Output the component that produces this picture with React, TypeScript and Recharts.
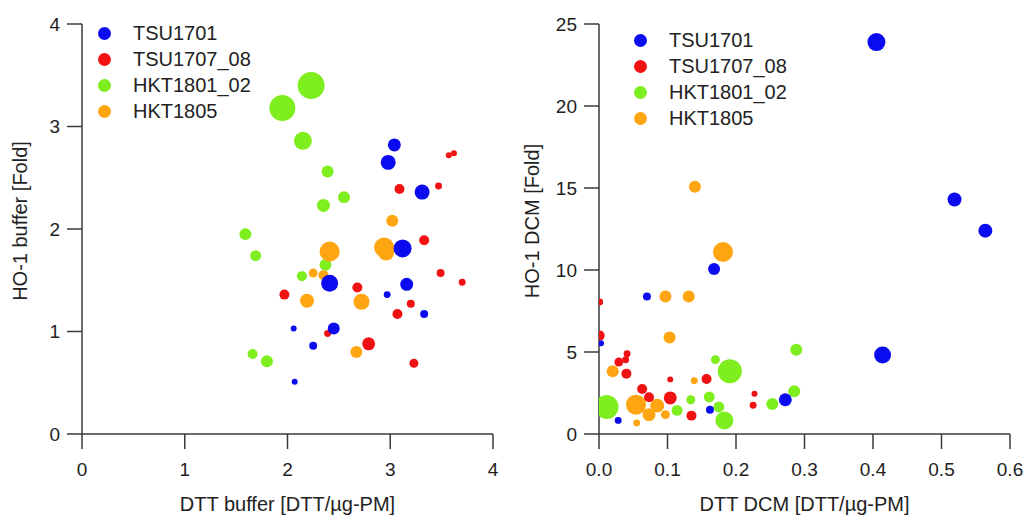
import React from "react";
import {
  ScatterChart,
  Scatter,
  XAxis,
  YAxis,
  ZAxis,
  Legend,
} from "recharts";

// series names and colours (legend order)
const seriesNames = ["TSU1701", "TSU1707_08", "HKT1801_02", "HKT1805"];
const seriesColors = ["#0b0bf0", "#f01212", "#7fee1e", "#ffa512"];
// draw order (later on top)
const drawOrder = [2, 3, 1, 0];

type Pt = { x: number; y: number; z: number };

// ---- left panel: DTT buffer vs HO-1 buffer ----
const bufTSU1701: Pt[] = [
  { x: 3.04, y: 2.82, z: 42 },
  { x: 2.98, y: 2.65, z: 56 },
  { x: 3.31, y: 2.36, z: 56 },
  { x: 3.12, y: 1.81, z: 81 },
  { x: 2.41, y: 1.47, z: 72 },
  { x: 3.16, y: 1.46, z: 42 },
  { x: 2.97, y: 1.36, z: 12 },
  { x: 3.33, y: 1.17, z: 16 },
  { x: 2.06, y: 1.03, z: 9 },
  { x: 2.45, y: 1.03, z: 36 },
  { x: 2.25, y: 0.86, z: 16 },
  { x: 2.07, y: 0.51, z: 9 },
];
const bufTSU1707: Pt[] = [
  { x: 3.57, y: 2.72, z: 9 },
  { x: 3.62, y: 2.74, z: 9 },
  { x: 3.09, y: 2.39, z: 25 },
  { x: 3.47, y: 2.42, z: 12 },
  { x: 3.33, y: 1.89, z: 25 },
  { x: 3.49, y: 1.57, z: 16 },
  { x: 3.7, y: 1.48, z: 12 },
  { x: 1.97, y: 1.36, z: 25 },
  { x: 2.68, y: 1.43, z: 25 },
  { x: 3.2, y: 1.27, z: 16 },
  { x: 3.07, y: 1.17, z: 25 },
  { x: 2.39, y: 0.98, z: 12 },
  { x: 2.79, y: 0.88, z: 42 },
  { x: 3.23, y: 0.69, z: 20 },
];
const bufHKT1801: Pt[] = [
  { x: 1.95, y: 3.18, z: 169 },
  { x: 2.23, y: 3.4, z: 182 },
  { x: 2.15, y: 2.86, z: 81 },
  { x: 2.39, y: 2.56, z: 36 },
  { x: 2.55, y: 2.31, z: 36 },
  { x: 2.35, y: 2.23, z: 42 },
  { x: 1.59, y: 1.95, z: 36 },
  { x: 1.69, y: 1.74, z: 30 },
  { x: 2.37, y: 1.65, z: 36 },
  { x: 2.14, y: 1.54, z: 25 },
  { x: 1.66, y: 0.78, z: 25 },
  { x: 1.8, y: 0.71, z: 36 },
];
const bufHKT1805: Pt[] = [
  { x: 3.02, y: 2.08, z: 36 },
  { x: 2.94, y: 1.82, z: 100 },
  { x: 2.96, y: 1.77, z: 64 },
  { x: 3.11, y: 1.83, z: 36 },
  { x: 2.41, y: 1.78, z: 100 },
  { x: 2.25, y: 1.57, z: 20 },
  { x: 2.35, y: 1.55, z: 25 },
  { x: 2.19, y: 1.3, z: 49 },
  { x: 2.72, y: 1.29, z: 64 },
  { x: 2.67, y: 0.8, z: 36 },
];

// ---- right panel: DTT DCM vs HO-1 DCM ----
const dcmTSU1701: Pt[] = [
  { x: 0.405, y: 23.9, z: 81 },
  { x: 0.519, y: 14.3, z: 49 },
  { x: 0.564, y: 12.4, z: 49 },
  { x: 0.414, y: 4.82, z: 72 },
  { x: 0.168, y: 10.06, z: 36 },
  { x: 0.07, y: 8.39, z: 16 },
  { x: 0.003, y: 5.53, z: 9 },
  { x: 0.272, y: 2.09, z: 42 },
  { x: 0.162, y: 1.48, z: 16 },
  { x: 0.028, y: 0.83, z: 12 },
];
const dcmTSU1707: Pt[] = [
  { x: 0.001, y: 8.05, z: 12 },
  { x: 0.001, y: 6.0, z: 25 },
  { x: 0.041, y: 4.9, z: 12 },
  { x: 0.039, y: 4.53, z: 12 },
  { x: 0.029, y: 4.39, z: 20 },
  { x: 0.04, y: 3.68, z: 25 },
  { x: 0.063, y: 2.74, z: 25 },
  { x: 0.073, y: 2.24, z: 25 },
  { x: 0.104, y: 2.2, z: 42 },
  { x: 0.104, y: 3.33, z: 9 },
  { x: 0.157, y: 3.35, z: 25 },
  { x: 0.135, y: 1.12, z: 25 },
  { x: 0.227, y: 2.46, z: 9 },
  { x: 0.225, y: 1.75, z: 12 },
];
const dcmHKT1801: Pt[] = [
  { x: 0.011, y: 1.65, z: 144 },
  { x: 0.191, y: 3.82, z: 144 },
  { x: 0.183, y: 0.83, z: 81 },
  { x: 0.288, y: 5.14, z: 36 },
  { x: 0.17, y: 4.53, z: 20 },
  { x: 0.285, y: 2.6, z: 36 },
  { x: 0.253, y: 1.83, z: 36 },
  { x: 0.161, y: 2.26, z: 30 },
  { x: 0.134, y: 2.09, z: 20 },
  { x: 0.114, y: 1.44, z: 30 },
  { x: 0.175, y: 1.65, z: 30 },
];
const dcmHKT1805: Pt[] = [
  { x: 0.14, y: 15.08, z: 36 },
  { x: 0.181, y: 11.1, z: 100 },
  { x: 0.097, y: 8.39, z: 36 },
  { x: 0.131, y: 8.39, z: 36 },
  { x: 0.103, y: 5.89, z: 36 },
  { x: 0.02, y: 3.82, z: 36 },
  { x: 0.139, y: 3.25, z: 12 },
  { x: 0.054, y: 1.79, z: 100 },
  { x: 0.085, y: 1.73, z: 49 },
  { x: 0.073, y: 1.18, z: 42 },
  { x: 0.097, y: 1.18, z: 20 },
  { x: 0.055, y: 0.67, z: 12 },
];

const bufSeries = [bufTSU1701, bufTSU1707, bufHKT1801, bufHKT1805];
const dcmSeries = [dcmTSU1701, dcmTSU1707, dcmHKT1801, dcmHKT1805];

const bufTicks = [0, 1, 2, 3, 4];
const dcmXTicks = [0, 0.1, 0.2, 0.3, 0.4, 0.5, 0.6];
const dcmYTicks = [0, 5, 10, 15, 20, 25];

const FONT = "'Liberation Sans', Arial, sans-serif";
const AXIS = "#3a3a3a";
const TEXT = "#222";
const tickStyle = { fill: TEXT, fontSize: 19, fontFamily: FONT };
const titleStyle = { fill: TEXT, fontSize: 20, fontFamily: FONT };

const LegendBox = () => (
  <ul style={{ listStyle: "none", margin: 0, padding: 0, fontFamily: FONT }}>
    {seriesNames.map((name, i) => (
      <li
        key={name}
        style={{ height: 26, display: "flex", alignItems: "center" }}
      >
        <svg width={13} height={13} style={{ marginRight: 22 }}>
          <circle cx={6.5} cy={6.5} r={6.5} fill={seriesColors[i]} />
        </svg>
        <span style={{ fontSize: 20, color: TEXT }}>{name}</span>
      </li>
    ))}
  </ul>
);

type PanelProps = {
  series: Pt[][];
  xDomain: [number, number];
  yDomain: [number, number];
  xTicks: number[];
  yTicks: number[];
  xFmt: (v: number) => string;
  xTitle: string;
  yTitle: string;
  yAxisWidth: number;
  legendPos: { left: number; top: number };
};

const Panel = (p: PanelProps) => (
  <ScatterChart
    width={512}
    height={515}
    margin={{ top: 24, right: 512 - p.yAxisWidth - 411, bottom: 0, left: 0 }}
  >
    <XAxis
      type="number"
      dataKey="x"
      domain={p.xDomain}
      ticks={p.xTicks}
      tickFormatter={p.xFmt}
      height={81}
      tickSize={15}
      tickMargin={14}
      stroke={AXIS}
      strokeWidth={1.5}
      tick={tickStyle}
      interval={0}
      allowDataOverflow
      label={{
        value: p.xTitle,
        position: "insideBottom",
        offset: 4,
        style: titleStyle,
      }}
    />
    <YAxis
      type="number"
      dataKey="y"
      domain={p.yDomain}
      ticks={p.yTicks}
      width={p.yAxisWidth}
      tickSize={15}
      tickMargin={7}
      stroke={AXIS}
      strokeWidth={1.5}
      tick={tickStyle}
      interval={0}
      allowDataOverflow
      label={{
        value: p.yTitle,
        angle: -90,
        position: "insideLeft",
        offset: 20,
        dy: -8,
        style: { ...titleStyle, textAnchor: "middle" },
      }}
    />
    <ZAxis type="number" dataKey="z" domain={[9, 196]} range={[28, 616]} />
    <Legend
      layout="vertical"
      align="center"
      verticalAlign="middle"
      content={() => <LegendBox />}
      wrapperStyle={{ left: p.legendPos.left, top: p.legendPos.top, width: "auto" }}
    />
    {drawOrder.map((i) => (
      <Scatter
        key={seriesNames[i]}
        name={seriesNames[i]}
        data={p.series[i]}
        fill={seriesColors[i]}
        isAnimationActive={false}
      />
    ))}
  </ScatterChart>
);

export default function App() {
  return (
    <div
      style={{
        position: "absolute",
        left: 0,
        top: 0,
        width: 1025,
        height: 515,
        background: "#fff",
        display: "flex",
      }}
    >
      <Panel
        series={bufSeries}
        xDomain={[0, 4]}
        yDomain={[0, 4]}
        xTicks={bufTicks}
        yTicks={bufTicks}
        xFmt={(v) => String(v)}
        xTitle="DTT buffer [DTT/µg-PM]"
        yTitle="HO-1 buffer [Fold]"
        yAxisWidth={82}
        legendPos={{ left: 98, top: 20 }}
      />
      <Panel
        series={dcmSeries}
        xDomain={[0, 0.6]}
        yDomain={[0, 25]}
        xTicks={dcmXTicks}
        yTicks={dcmYTicks}
        xFmt={(v) => v.toFixed(1)}
        xTitle="DTT DCM [DTT/µg-PM]"
        yTitle="HO-1 DCM [Fold]"
        yAxisWidth={87}
        legendPos={{ left: 122, top: 27 }}
      />
    </div>
  );
}
